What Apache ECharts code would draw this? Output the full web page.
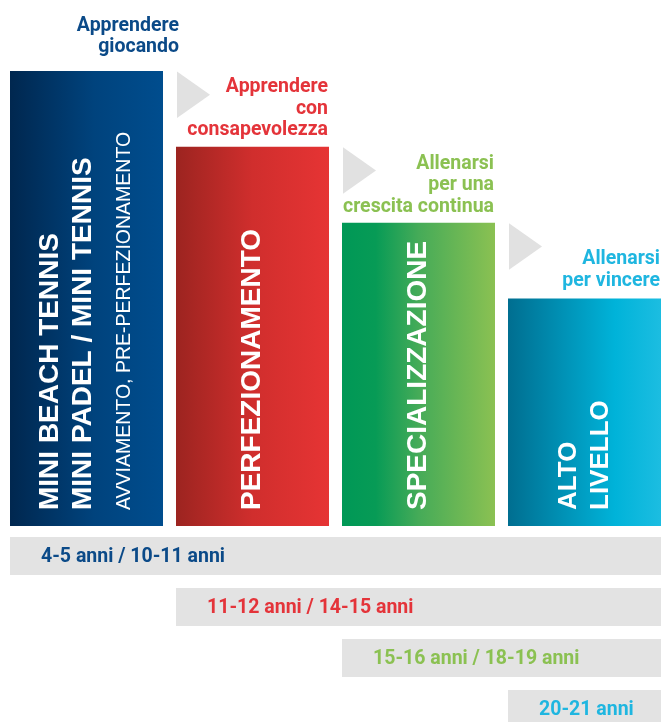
<!DOCTYPE html>
<html>
<head>
<meta charset="utf-8">
<script src="https://cdn.jsdelivr.net/npm/echarts@6/dist/echarts.min.js"></script>
<style>
html,body{margin:0;padding:0;background:#fff;}
#chart{width:661px;height:722px;}
</style>
</head>
<body>
<div id="chart"></div>
<script>
// ---- data ----
const stageTitles = [
  ['Apprendere', 'giocando'],
  ['Apprendere', 'con', 'consapevolezza'],
  ['Allenarsi', 'per una', 'crescita continua'],
  ['Allenarsi', 'per vincere']
];
const stageLevels = [6, 5, 4, 3];
const stageNames = [
  ['MINI BEACH TENNIS', 'MINI PADEL / MINI TENNIS', 'AVVIAMENTO, PRE-PERFEZIONAMENTO'],
  ['PERFEZIONAMENTO'],
  ['SPECIALIZZAZIONE'],
  ['ALTO', 'LIVELLO']
];
const ageRanges = ['4-5 anni / 10-11 anni', '11-12 anni / 14-15 anni', '15-16 anni / 18-19 anni', '20-21 anni'];
const ageStartStage = [0, 1, 2, 3];

// ---- styles ----
const textColors = ['#0b4a88', '#e4343a', '#8bc152', '#1fb6e0'];
const gradients = [
  [[0, '#00274f'], [0.55, '#00437d'], [1, '#004d8e']],
  [[0, '#9c2420'], [0.5, '#d02e2d'], [1, '#e63434']],
  [[0, '#009856'], [0.22, '#079b56'], [0.5, '#45ab58'], [1, '#8bc152']],
  [[0, '#006e90'], [0.7, '#00b3d9'], [1, '#1cbde1']]
];
const titleDx = [16, -1, -1, -1];
const titleGap = [23.7, 16.7, 15.7, 17.7];
const innerCols = [[40.5, 73, 115], [76], [76.5], [60.5, 93]];
const innerFonts = [
  ['bold 28px "Liberation Sans"', 'bold 28px "Liberation Sans"', '19.5px "Liberation Sans"'],
  ['bold 28px "Liberation Sans"'],
  ['bold 28px "Liberation Sans"'],
  ['bold 26px "Liberation Sans"', 'bold 26px "Liberation Sans"']
];
const BAR_FRAC = 153 / 166;       // bar width as fraction of stage pitch
const ROW_PITCH = 51;             // px between age rows
const ROW_FRAC = 38 / 51;         // row height fraction
const ROW_AREA = 722 - 537;       // px available below bars
const TRI_COLOR = '#e1e1e1';
const ROW_COLOR = '#e3e3e3';

function gradOf(i) {
  return new echarts.graphic.LinearGradient(0, 0, 1, 0,
    gradients[i].map(s => ({offset: s[0], color: s[1]})));
}

const chart = echarts.init(document.getElementById('chart'), null, {renderer: 'canvas'});
const xMax = stageLevels.length - 1 + BAR_FRAC;

const option = {
  animation: false,
  backgroundColor: '#ffffff',
  grid: [
    {left: 10, right: 0, top: 71, bottom: 196},
    {left: 10, right: 0, top: 537, bottom: 0}
  ],
  xAxis: [
    {type: 'value', gridIndex: 0, min: 0, max: xMax, show: false},
    {type: 'value', gridIndex: 1, min: 0, max: xMax, show: false}
  ],
  yAxis: [
    {type: 'value', gridIndex: 0, min: 0, max: 6, show: false},
    {type: 'value', gridIndex: 1, min: 0, max: ROW_AREA / ROW_PITCH, inverse: true, show: false}
  ],
  series: [
    {
      type: 'custom',
      xAxisIndex: 0, yAxisIndex: 0,
      clip: false,
      data: stageLevels.map((v, i) => [i, v]),
      renderItem: function (params, api) {
        const i = api.value(0);
        const v = api.value(1);
        const top = api.coord([i, v]);
        const bottom = api.coord([i, 0]);
        const unit = api.size([1, 0])[0];
        const w = unit * BAR_FRAC;
        const x0 = top[0];
        const children = [];
        children.push({
          type: 'rect',
          shape: {x: x0, y: top[1], width: w, height: bottom[1] - top[1]},
          style: {fill: gradOf(i)}
        });
        stageNames[i].forEach((t, k) => {
          children.push({
            type: 'text',
            x: x0 + innerCols[i][k],
            y: bottom[1] - 16,
            rotation: Math.PI / 2,
            style: {
              text: t, x: 0, y: 0,
              align: 'left', verticalAlign: 'middle',
              fill: '#ffffff', font: innerFonts[i][k]
            }
          });
        });
        const lines = stageTitles[i];
        const n = lines.length;
        lines.forEach((t, k) => {
          children.push({
            type: 'text',
            x: x0 + w + titleDx[i],
            y: top[1] - titleGap[i] - (n - 1 - k) * 21.5,
            style: {
              text: t, x: 0, y: 0,
              align: 'right', verticalAlign: 'middle',
              fill: textColors[i], font: 'bold 19.5px Roboto'
            }
          });
        });
        if (i < stageLevels.length - 1) {
          const nx = api.coord([i + 1, v])[0] + 1;
          const ty = top[1] + 0.5;
          children.push({
            type: 'polygon',
            shape: {points: [[nx, ty], [nx + 33, ty + 23.25], [nx, ty + 46.5]]},
            style: {fill: TRI_COLOR}
          });
        }
        return {type: 'group', children: children};
      }
    },
    {
      type: 'custom',
      xAxisIndex: 1, yAxisIndex: 1,
      clip: false,
      data: ageStartStage.map((s, k) => [s, k]),
      renderItem: function (params, api) {
        const s = api.value(0);
        const k = api.value(1);
        const p = api.coord([s, k]);
        const pEnd = api.coord([xMax, k]);
        const h = api.size([0, 1])[1] * ROW_FRAC;
        return {
          type: 'group',
          children: [
            {type: 'rect', shape: {x: p[0], y: p[1], width: pEnd[0] - p[0], height: h}, style: {fill: ROW_COLOR}},
            {type: 'text', x: p[0] + 31, y: p[1] + 20,
              style: {text: ageRanges[k], x: 0, y: 0, align: 'left', verticalAlign: 'middle',
                fill: textColors[k], font: 'bold 19.5px Roboto'}}
          ]
        };
      }
    }
  ]
};
chart.setOption(option);
</script>
</body>
</html>
